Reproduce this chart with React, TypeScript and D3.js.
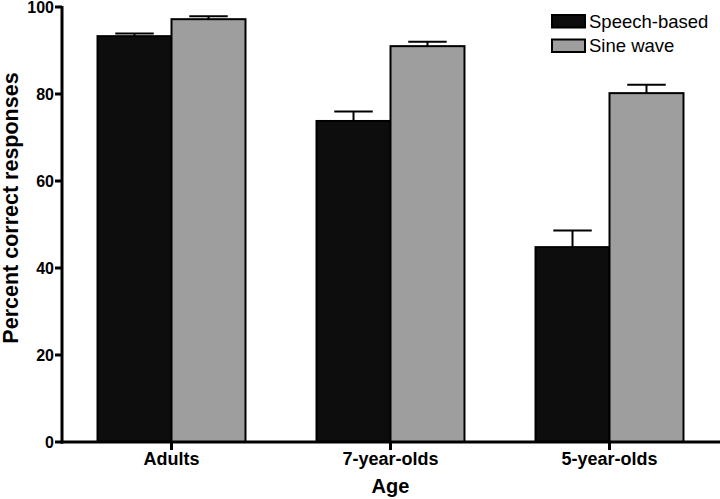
import React from "react";
import * as d3 from "d3";

const categories = ["Adults", "7-year-olds", "5-year-olds"];
const seriesNames = ["Speech-based", "Sine wave"];
const speechMeans = [93.3, 73.8, 44.8];
const speechErrors = [0.6, 2.2, 3.8];
const sineMeans = [97.2, 91.0, 80.2];
const sineErrors = [0.7, 1.0, 1.9];
const yTicks = [0, 20, 40, 60, 80, 100];

const seriesFill = ["#0d0d0d", "#9e9e9e"];
const FONT = "'Liberation Sans', Arial, Helvetica, sans-serif";

export default function App() {
  const W = 720;
  const H = 499;
  const left = 62;
  const right = 719;
  const top = 7;
  const bottom = 442;

  const y = d3.scaleLinear().domain([0, 100]).range([bottom, top]);
  const x0 = d3.scaleBand<string>().domain(categories).range([left, right]).padding(0);
  const x1 = d3
    .scaleBand<string>()
    .domain(seriesNames)
    .range([0, x0.bandwidth()])
    .paddingInner(0)
    .paddingOuter(0.48);

  const rows = categories.map((c, i) => ({
    cat: c,
    vals: [
      { s: seriesNames[0], v: speechMeans[i], e: speechErrors[i] },
      { s: seriesNames[1], v: sineMeans[i], e: sineErrors[i] },
    ],
  }));

  const bw = x1.bandwidth();
  const capW = bw * 0.52;

  return (
    <svg
      width={W}
      height={H}
      style={{ position: "absolute", left: 0, top: 0, background: "#fff" }}
      fontFamily={FONT}
    >
      {/* bars */}
      {rows.map((r) =>
        r.vals.map((d, j) => {
          const bx = (x0(r.cat) as number) + (x1(d.s) as number);
          const cx = bx + bw / 2;
          return (
            <g key={r.cat + d.s}>
              <line x1={cx} x2={cx} y1={y(d.v)} y2={y(d.v + d.e)} stroke="#000" strokeWidth={2} />
              <line
                x1={cx - capW / 2}
                x2={cx + capW / 2}
                y1={y(d.v + d.e)}
                y2={y(d.v + d.e)}
                stroke="#000"
                strokeWidth={2}
              />
              <rect
                x={bx}
                y={y(d.v)}
                width={bw}
                height={y(0) - y(d.v)}
                fill={seriesFill[j]}
                stroke="#000"
                strokeWidth={2}
              />
            </g>
          );
        })
      )}

      {/* y axis */}
      <line x1={left} x2={left} y1={top - 1} y2={bottom + 1.5} stroke="#000" strokeWidth={3} />
      {yTicks.map((t) => (
        <g key={t}>
          <line x1={left - 7} x2={left} y1={y(t)} y2={y(t)} stroke="#000" strokeWidth={3} />
          <text
            x={left - 8}
            y={y(t)}
            dy="0.36em"
            textAnchor="end"
            fontSize={16}
            fontWeight="bold"
            fill="#000"
          >
            {t}
          </text>
        </g>
      ))}

      {/* x axis */}
      <line x1={left - 1.5} x2={W} y1={bottom} y2={bottom} stroke="#000" strokeWidth={3} />
      {categories.map((c) => {
        const cx = (x0(c) as number) + x0.bandwidth() / 2;
        return (
          <g key={c}>
            <line x1={cx} x2={cx} y1={bottom} y2={bottom + 8} stroke="#000" strokeWidth={3} />
            <text x={cx} y={465} textAnchor="middle" fontSize={18} fontWeight="bold" fill="#000">
              {c}
            </text>
          </g>
        );
      })}

      {/* axis titles */}
      <text x={(left + right) / 2} y={493} textAnchor="middle" fontSize={20} fontWeight="bold" fill="#000">
        Age
      </text>
      <text
        transform={`translate(18, 208) rotate(-90)`}
        textAnchor="middle"
        fontSize={21.5}
        fontWeight="bold"
        fill="#000"
      >
        Percent correct responses
      </text>

      {/* legend */}
      {seriesNames.map((s, i) => (
        <g key={s} transform={`translate(552, ${15 + i * 24.5})`}>
          <rect x={0} y={0} width={33} height={12.5} fill={seriesFill[i]} stroke="#000" strokeWidth={2} />
          <text x={37} y={12.8} fontSize={18.5} fill="#000">
            {s}
          </text>
        </g>
      ))}
    </svg>
  );
}
